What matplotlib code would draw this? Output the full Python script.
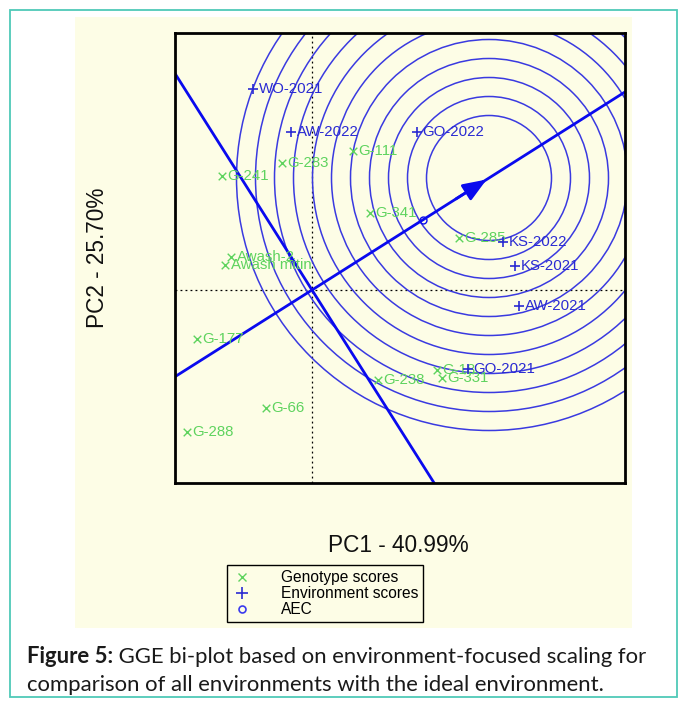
import numpy as np
import matplotlib
matplotlib.use("Agg")
import matplotlib.pyplot as plt
from matplotlib.patches import Circle, Rectangle
from matplotlib.lines import Line2D

# ---------------- data ----------------
genotypes = ["G-283", "G-241", "G-111", "G-341", "G-285", "Awash-2", "Awash mitin",
             "G-177", "G-66", "G-288", "G-238", "G-18", "G-331"]
gen_pc1 = [-0.30, -0.90, 0.41, 0.58, 1.47, -0.81, -0.87, -1.15, -0.46, -1.25, 0.66, 1.25, 1.30]
gen_pc2 = [1.27, 1.14, 1.39, 0.77, 0.52, 0.33, 0.25, -0.49, -1.18, -1.42, -0.90, -0.80, -0.88]

environments = ["WO-2021", "AW-2022", "GO-2022", "KS-2022", "KS-2021", "AW-2021", "GO-2021"]
env_pc1 = [-0.59, -0.21, 1.05, 1.91, 2.03, 2.07, 1.56]
env_pc2 = [2.01, 1.58, 1.58, 0.48, 0.24, -0.16, -0.79]

aec_point = (1.11, 0.70)        # average environment coordinate
ideal_point = (1.77, 1.12)      # ideal environment
circle_radii = [0.625 + 0.19 * k for k in range(11)]

xlabel = "PC1 - 40.99%"
ylabel = "PC2 - 25.70%"
legend_labels = ["Genotype scores", "Environment scores", "AEC"]
caption_bold = "Figure 5:"
caption_line1 = " GGE bi-plot based on environment-focused scaling for"
caption_line2 = "comparison of all environments with the ideal environment."

# ---------------- style ----------------
W, H = 680, 701
cream = "#fdfde6"
green = "#5ed35e"
envblue = "#2a2ad2"
lineblue = "#0a0aee"
circblue = "#3a3ae0"

plt.rcParams["font.family"] = ["Liberation Sans", "DejaVu Sans"]

fig = plt.figure(figsize=(W / 100, H / 100), dpi=100)
fig.patch.set_facecolor("white")

def fx(px):
    return px / W

def fy(py):
    return 1 - py / H

# teal outer border
fig.patches.append(Rectangle((fx(10), fy(697)), fx(667), 687 / H, transform=fig.transFigure,
                             fill=False, edgecolor="#4fc9b8", lw=1.3, zorder=-2))
# cream panel
fig.patches.append(Rectangle((fx(75), fy(628)), fx(557), 611 / H, transform=fig.transFigure,
                             facecolor=cream, edgecolor="none", zorder=-1))

ax = fig.add_axes([fx(175), fy(483), 450 / W, 450 / H])
ax.set_zorder(1)
ax.set_facecolor(cream)
xmin, xmax = -1.37, 3.13
ymin, ymax = -1.93, 2.57
ax.set_xlim(xmin, xmax)
ax.set_ylim(ymin, ymax)
ax.set_xticks([])
ax.set_yticks([])
for s in ax.spines.values():
    s.set_linewidth(2.0)
    s.set_color("black")
    s.set_zorder(10)

# dotted axes through origin
ax.axhline(0, color="black", ls=(0, (1.5, 2.5)), lw=0.9, zorder=1)
ax.axvline(0, color="black", ls=(0, (1.5, 2.5)), lw=0.9, zorder=1)

# concentric circles around ideal environment
for r in circle_radii:
    ax.add_patch(Circle(ideal_point, r, fill=False, edgecolor=circblue, lw=1.1, zorder=2))

# AEC abscissa through origin and ideal point, and its perpendicular
slope = ideal_point[1] / ideal_point[0]
xs = np.array([xmin - 1, xmax + 1])
ax.plot(xs, slope * xs, color=lineblue, lw=2.0, zorder=3)
ax.plot(xs, -xs / slope, color=lineblue, lw=2.0, zorder=3)
ax.annotate("", xy=ideal_point, xytext=(ideal_point[0] * 0.8, ideal_point[1] * 0.8),
            arrowprops=dict(arrowstyle="-|>,head_length=0.9,head_width=0.35",
                            color=lineblue, lw=2.0, mutation_scale=16), zorder=4)

# AEC marker
ax.plot(*aec_point, marker="o", ms=5, mfc="none", mec=lineblue, mew=1.0, zorder=5)

# genotype scores
ax.scatter(gen_pc1, gen_pc2, marker="x", s=30, c=green, linewidths=1.0, zorder=5)
for name, x, y in zip(genotypes, gen_pc1, gen_pc2):
    ax.annotate(name, (x, y), xytext=(4, 0), textcoords="offset points",
                va="center", ha="left", fontsize=10.8, color=green, zorder=5)

# environment scores
ax.scatter(env_pc1, env_pc2, marker="+", s=60, c=envblue, linewidths=1.2, zorder=6)
for name, x, y in zip(environments, env_pc1, env_pc2):
    ax.annotate(name, (x, y), xytext=(4, 0), textcoords="offset points",
                va="center", ha="left", fontsize=10.8, color=envblue, zorder=6)

# axis labels
fig.text(fx(398), fy(545), xlabel, ha="center", va="center", fontsize=16.3, color="#111111")
fig.text(fx(97), fy(258), ylabel, ha="center", va="center", rotation=90, fontsize=16.3,
         color="#111111")

# legend
handles = [Line2D([], [], ls="none", marker="x", color=green, ms=6, mew=1.0),
           Line2D([], [], ls="none", marker="+", color=envblue, ms=8, mew=1.2),
           Line2D([], [], ls="none", marker="o", mfc="none", mec="#3a3aee", ms=5, mew=1.2)]
leg = fig.legend(handles, legend_labels, loc="upper left",
                 bbox_to_anchor=(fx(227), fy(565)), bbox_transform=fig.transFigure,
                 fontsize=11.2, frameon=True, fancybox=False, edgecolor="black",
                 facecolor=cream, framealpha=1, borderpad=0.35, labelspacing=0.05,
                 handlelength=1.2, handletextpad=1.9, borderaxespad=0)
leg.get_frame().set_linewidth(1.0)

# caption
cap_font = ["Lato", "DejaVu Sans"]
cap_size = 15.9
t1 = fig.text(fx(27), fy(663), caption_bold, fontsize=cap_size, fontweight="bold",
              family=cap_font, va="baseline", color="#1a1a1a")
fig.canvas.draw()
bb = t1.get_window_extent()
fig.text(bb.x1 / W, fy(663), caption_line1, fontsize=cap_size, family=cap_font,
         va="baseline", color="#1a1a1a")
fig.text(fx(27), fy(691), caption_line2, fontsize=cap_size, family=cap_font,
         va="baseline", color="#1a1a1a")

fig.savefig("out.png", dpi=100, facecolor="white")
